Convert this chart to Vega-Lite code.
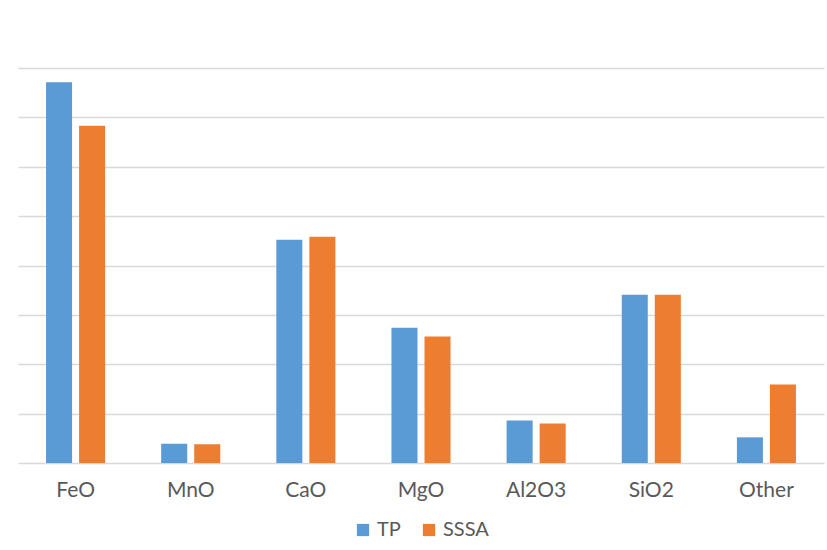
{
  "$schema": "https://vega.github.io/schema/vega-lite/v6.json",
  "autosize": "none",
  "width": 806,
  "height": 395,
  "padding": {"left": 18, "top": 68, "right": 3, "bottom": 87},
  "background": "white",
  "data": {
    "values": [
      {"oxide": "FeO", "sample": "TP", "value": 77.1},
      {"oxide": "FeO", "sample": "SSSA", "value": 68.3},
      {"oxide": "MnO", "sample": "TP", "value": 3.9},
      {"oxide": "MnO", "sample": "SSSA", "value": 3.8},
      {"oxide": "CaO", "sample": "TP", "value": 45.2},
      {"oxide": "CaO", "sample": "SSSA", "value": 45.8},
      {"oxide": "MgO", "sample": "TP", "value": 27.4},
      {"oxide": "MgO", "sample": "SSSA", "value": 25.6},
      {"oxide": "Al2O3", "sample": "TP", "value": 8.6},
      {"oxide": "Al2O3", "sample": "SSSA", "value": 8.0},
      {"oxide": "SiO2", "sample": "TP", "value": 34.1},
      {"oxide": "SiO2", "sample": "SSSA", "value": 34.1},
      {"oxide": "Other", "sample": "TP", "value": 5.2},
      {"oxide": "Other", "sample": "SSSA", "value": 15.9}
    ]
  },
  "mark": {"type": "bar"},
  "encoding": {
    "x": {
      "field": "oxide",
      "type": "nominal",
      "sort": ["FeO", "MnO", "CaO", "MgO", "Al2O3", "SiO2", "Other"],
      "scale": {"paddingInner": 0.487, "paddingOuter": 0.2435},
      "axis": {
        "title": null,
        "domain": false,
        "ticks": false,
        "labelAngle": 0,
        "labelFont": "Lato",
        "labelFontSize": 21,
        "labelColor": "#595959",
        "labelPadding": 16
      }
    },
    "xOffset": {
      "field": "sample",
      "type": "nominal",
      "sort": ["TP", "SSSA"],
      "scale": {"paddingInner": 0.212, "paddingOuter": 0}
    },
    "y": {
      "field": "value",
      "type": "quantitative",
      "scale": {"domain": [0, 80], "nice": false},
      "axis": {
        "title": null,
        "labels": false,
        "ticks": false,
        "domain": false,
        "grid": true,
        "values": [0, 10, 20, 30, 40, 50, 60, 70, 80],
        "gridColor": "#d9d9d9",
        "gridWidth": 1.3
      }
    },
    "color": {
      "field": "sample",
      "type": "nominal",
      "sort": ["TP", "SSSA"],
      "scale": {"domain": ["TP", "SSSA"], "range": ["#5b9bd5", "#ed7d31"]},
      "legend": {
        "title": null,
        "orient": "bottom",
        "direction": "horizontal",
        "symbolType": "square",
        "symbolSize": 150,
        "symbolStrokeWidth": 0,
        "labelFont": "Lato",
        "labelFontSize": 20,
        "labelColor": "#595959",
        "labelOffset": 4,
        "columnPadding": 18,
        "offset": 20
      }
    }
  },
  "config": {
    "view": {"stroke": null},
    "legend": {"layout": {"bottom": {"anchor": "middle"}}}
  }
}
